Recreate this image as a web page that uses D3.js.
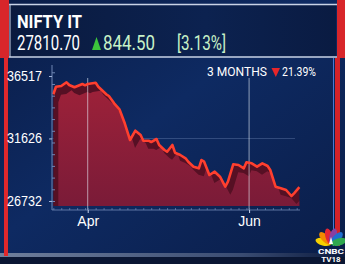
<!DOCTYPE html>
<html><head><meta charset="utf-8">
<script src="https://cdn.jsdelivr.net/npm/d3@7/dist/d3.min.js"></script>
<style>
html,body{margin:0;padding:0;background:#0b2150;overflow:hidden}
svg{display:block;font-family:Roboto,"Open Sans",sans-serif}
</style></head>
<body>
<svg id="c" width="345" height="264"></svg>
<script>
// ---- data ----
const titleText = "NIFTY IT";
const lastValue = "27810.70";
const changeValue = "844.50";
const changePct = "[3.13%]";
const periodLabel = "3 MONTHS";
const periodChange = "21.39%";

const dates = ["2022-03-19","2022-03-20","2022-03-22","2022-03-24","2022-03-25","2022-03-27","2022-03-30","2022-03-31",
"2022-04-01","2022-04-04","2022-04-05","2022-04-08","2022-04-09","2022-04-11","2022-04-13","2022-04-15","2022-04-17",
"2022-04-19","2022-04-21","2022-04-22","2022-04-24","2022-04-25","2022-04-27","2022-04-28","2022-04-30","2022-05-01",
"2022-05-03","2022-05-04","2022-05-06","2022-05-08","2022-05-09","2022-05-11","2022-05-13","2022-05-14","2022-05-15",
"2022-05-17","2022-05-19","2022-05-21","2022-05-23","2022-05-24","2022-05-26","2022-05-28","2022-05-30","2022-05-31",
"2022-06-02","2022-06-04","2022-06-06","2022-06-08","2022-06-09","2022-06-11","2022-06-13","2022-06-15","2022-06-17",
"2022-06-18","2022-06-20"];
const values = [35085,35679,35734,36024,35813,35632,35891,35789,
35891,35992,35679,35085,34951,34380,33910,32814,31507,
32235,31898,31452,31452,31350,31585,31116,30724,30591,
31116,30513,30333,30075,29809,29417,29292,29941,29809,
28767,29026,28634,27851,28243,29605,29550,29292,29761,
29683,29417,29683,29472,29159,27851,27726,27593,27123,
27335,27811];
const yTickValues = [26732, 31626, 36517];
const gridValues = [26732, 31626];
const xTickDates = ["2022-04-01","2022-06-01"];
const xTickLabels = ["Apr","Jun"];

// ---- setup ----
const svg = d3.select("#c");
const W = 345, H = 264;
const parse = d3.utcParse("%Y-%m-%d");
const data = dates.map((d,i)=>({date:parse(d), value:values[i]}));

const x = d3.scaleUtc().domain([new Date(Date.UTC(2022,2,18,12)), new Date(Date.UTC(2022,5,21))]).range([52,302]);
const y = d3.scaleLinear().domain([26732,36517]).range([201,76]);
const plotBottom = 206;

const defs = svg.append("defs");
const bg = defs.append("linearGradient").attr("id","bg").attr("x1",0).attr("y1",0).attr("x2",1).attr("y2",1);
bg.append("stop").attr("offset","0%").attr("stop-color","#0a1d48");
bg.append("stop").attr("offset","45%").attr("stop-color","#0e2a62");
bg.append("stop").attr("offset","100%").attr("stop-color","#0a1d48");
const hb = defs.append("linearGradient").attr("id","hb").attr("x1",0).attr("y1",0).attr("x2",1).attr("y2",0);
hb.append("stop").attr("offset","0%").attr("stop-color","#0a1a3e");
hb.append("stop").attr("offset","60%").attr("stop-color","#0c2250");
hb.append("stop").attr("offset","100%").attr("stop-color","#0a1b42");
const fg = defs.append("linearGradient").attr("id","fg").attr("x1",0).attr("y1",0).attr("x2",0).attr("y2",1);
fg.append("stop").attr("offset","0%").attr("stop-color","#9c2139");
fg.append("stop").attr("offset","100%").attr("stop-color","#7a1b38");
const bs = defs.append("linearGradient").attr("id","bs").attr("x1",0).attr("y1",0).attr("x2",1).attr("y2",0);
bs.append("stop").attr("offset","0%").attr("stop-color","#6f7f9c");
bs.append("stop").attr("offset","70%").attr("stop-color","#3a4c72");
bs.append("stop").attr("offset","100%").attr("stop-color","#0b1a3e");

// background
svg.append("rect").attr("width",W).attr("height",H).attr("fill","url(#bg)");
svg.append("rect").attr("x",0).attr("y",253).attr("width",W).attr("height",4).attr("fill","url(#bs)");
svg.append("rect").attr("x",0).attr("y",257).attr("width",W).attr("height",7).attr("fill","#0a1633");

// header
svg.append("rect").attr("x",10).attr("y",4).attr("width",326).attr("height",53).attr("fill","url(#hb)");
svg.append("line").attr("x1",9).attr("x2",337).attr("y1",4.5).attr("y2",4.5).attr("stroke","#c9d3e6").attr("stroke-width",1.5);
svg.append("line").attr("x1",9).attr("x2",337).attr("y1",57).attr("y2",57).attr("stroke","#c9d3e6").attr("stroke-width",1.5);
svg.append("line").attr("x1",10).attr("x2",10).attr("y1",4).attr("y2",57).attr("stroke","#c9d3e6").attr("stroke-width",1);
svg.append("rect").attr("x",0).attr("y",0).attr("width",9).attr("height",58).attr("fill","#d8262a");
svg.append("rect").attr("x",337).attr("y",0).attr("width",8).attr("height",58).attr("fill","#d8262a");
// side strips
svg.append("rect").attr("x",4).attr("y",58).attr("width",4).attr("height",198).attr("fill","#e0282c");
svg.append("rect").attr("x",335).attr("y",58).attr("width",5).attr("height",188).attr("fill","#d42228");
svg.append("line").attr("x1",333.5).attr("x2",333.5).attr("y1",58).attr("y2",246).attr("stroke","#4a78d0").attr("stroke-width",1);

svg.append("text").attr("x",17).attr("y",28).attr("fill","#fff").attr("font-size",19).attr("font-weight","bold")
  .attr("textLength",65).attr("lengthAdjust","spacingAndGlyphs").text(titleText);
svg.append("text").attr("x",17).attr("y",50).attr("fill","#fff").attr("font-size",21)
  .attr("textLength",63).attr("lengthAdjust","spacingAndGlyphs").text(lastValue);
svg.append("path").attr("d","M92,50 L96.5,37 L101,50 Z").attr("fill","#3cc43c");
svg.append("text").attr("x",103).attr("y",50).attr("fill","#c8f2c8").attr("font-size",21)
  .attr("textLength",52).attr("lengthAdjust","spacingAndGlyphs").text(changeValue);
svg.append("text").attr("x",177).attr("y",50).attr("fill","#c8f2c8").attr("font-size",21)
  .attr("textLength",49).attr("lengthAdjust","spacingAndGlyphs").text(changePct);

// grid lines
svg.append("g").selectAll("line").data(gridValues).join("line")
  .attr("x1",50).attr("x2",295).attr("y1",d=>y(d)).attr("y2",d=>y(d))
  .attr("stroke","#8fa6d0").attr("stroke-opacity",0.3).attr("stroke-width",1);

// area layers (3D extrusion look)
const dx = 5, dy = 8;
const areaTop = d3.area().x(d=>x(d.date)).y0(plotBottom).y1(d=>y(d.value));
const areaShift = d3.area().x(d=>x(d.date)+dx).y0(plotBottom).y1(d=>y(d.value)+dy);
defs.append("clipPath").attr("id","clipTop").append("path").attr("d",areaTop(data));
svg.append("path").attr("d",areaTop(data)).attr("fill","#561024");
svg.append("path").attr("d",areaShift(data)).attr("fill","url(#fg)").attr("clip-path","url(#clipTop)");

// vertical month lines
svg.selectAll("line.vm").data(xTickDates).join("line").attr("class","vm")
  .attr("x1",d=>x(parse(d))).attr("x2",d=>x(parse(d))).attr("y1",78).attr("y2",210)
  .attr("stroke","#e8eef8").attr("stroke-opacity",0.6).attr("stroke-width",1);

// line
svg.append("path").attr("d",d3.line().x(d=>x(d.date)).y(d=>y(d.value))(data))
  .attr("fill","none").attr("stroke","#ff3f2e").attr("stroke-width",2.6).attr("stroke-linejoin","round");

// y axis
const yAxis = d3.axisLeft(y).tickValues(yTickValues).tickSize(3).tickPadding(7).tickFormat(d3.format("d"));
const ya = svg.append("g").attr("transform","translate(52,0)").call(yAxis);
ya.select(".domain").attr("stroke","#6f86b4").attr("d","M0,65V210");
ya.selectAll(".tick line").attr("stroke","#9fb2d8");
ya.selectAll(".tick text").attr("fill","#fff").attr("font-size",14).attr("x",-10)
  .attr("textLength",35).attr("lengthAdjust","spacingAndGlyphs");
const minor = d3.range(26732-916, 36517+916*2, 916);
svg.append("g").attr("transform","translate(52,0)")
  .call(d3.axisRight(y).tickValues(minor.filter(v=>y(v)>64 && y(v)<210)).tickSize(3).tickFormat(""))
  .call(s=>s.select(".domain").remove())
  .selectAll(".tick line").attr("stroke","#6f86b4");

// x axis
const xAxis = d3.axisBottom(x).tickValues(xTickDates.map(parse)).tickSize(3).tickPadding(3)
  .tickFormat((d,i)=>xTickLabels[i]);
const xa = svg.append("g").attr("transform","translate(0,210)").call(xAxis);
xa.select(".domain").attr("stroke","#7f94c0").attr("stroke-opacity",0.7).attr("d","M52,0H300");
xa.selectAll(".tick line").attr("stroke","#c8d4ec");
xa.selectAll(".tick text").attr("fill","#fff").attr("font-size",14);
const xminor = d3.utcDay.every(3).range(x.domain()[0], x.domain()[1]);
svg.append("g").attr("transform","translate(0,210)")
  .call(d3.axisTop(x).tickValues(xminor).tickSize(2).tickFormat(""))
  .call(s=>s.select(".domain").remove())
  .selectAll(".tick line").attr("stroke","#7f94c0").attr("stroke-opacity",0.6);

// period label
svg.append("text").attr("x",207).attr("y",76).attr("fill","#fff").attr("font-size",12)
  .attr("textLength",60).attr("lengthAdjust","spacingAndGlyphs").text(periodLabel);
svg.append("path").attr("d","M271.5,68 L280,68 L275.8,77 Z").attr("fill","#e8262a");
svg.append("text").attr("x",282).attr("y",76).attr("fill","#fff").attr("font-size",12)
  .attr("textLength",34).attr("lengthAdjust","spacingAndGlyphs").text(periodChange);

// logo
const logo = svg.append("g").attr("transform","translate(331,244)");
const feathers = ["#f5d000","#f28a00","#e32636","#8a3fa0","#1f6fd0","#2fa84f"];
feathers.forEach((c,i)=>{
  const a = -75 + i*30;
  logo.append("ellipse").attr("cx",0).attr("cy",-8).attr("rx",3.6).attr("ry",8)
    .attr("fill",c).attr("transform",`rotate(${a})`);
});
logo.append("path").attr("d","M-2,0 L0,-7 L2,0 Z").attr("fill","#fff");
svg.append("text").attr("x",331).attr("y",253.5).attr("text-anchor","middle").attr("fill","#fff")
  .attr("font-size",8).attr("font-weight","bold").attr("textLength",26).attr("lengthAdjust","spacingAndGlyphs").text("CNBC");
svg.append("text").attr("x",331).attr("y",262).attr("text-anchor","middle").attr("fill","#fff")
  .attr("font-size",8).attr("font-weight","bold").text("TV18");
</script>
</body></html>
